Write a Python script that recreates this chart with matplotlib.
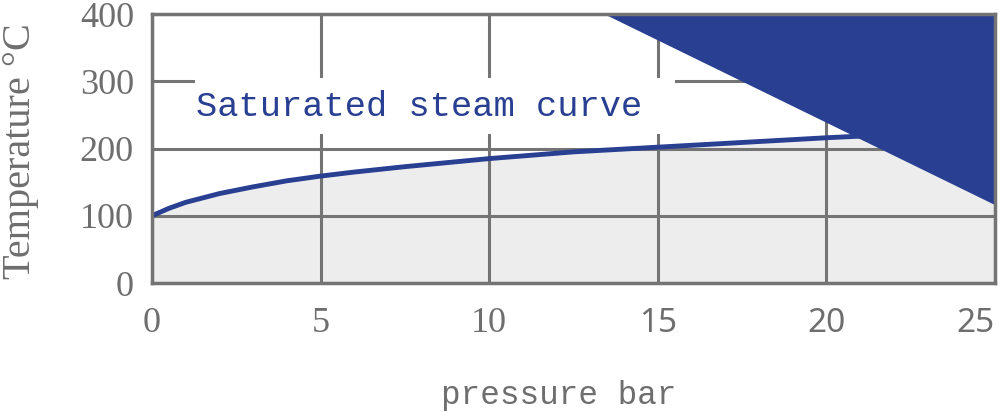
import numpy as np
import matplotlib.pyplot as plt
from matplotlib.patches import Rectangle

# saturated steam curve (gauge pressure bar, temperature C)
pressure = [0, 0.5, 1, 2, 3, 4, 5, 6, 7.5, 10, 12.5, 15, 17.5, 20, 22.5, 25]
temperature = [100, 111, 120, 133, 143, 152, 159, 165, 173, 185, 195, 202, 209, 216, 222, 228]

# dark blue corner region (superheated zone)
zone_x = [13.4, 25, 25]
zone_y = [400, 400, 116]

xticks = [0, 5, 10, 15, 20, 25]
yticks = [0, 100, 200, 300, 400]

grey = '#747474'
blue = '#283f92'
label_grey = '#6e6e6e'

fig = plt.figure(figsize=(10, 4.11), dpi=100)
ax = fig.add_axes([0.152, 0.3114, 0.843, 0.6545])

ax.fill_between(pressure, temperature, 0, color='#ededed', zorder=1)
ax.grid(True, color=grey, linewidth=2.2, zorder=2)
ax.set_axisbelow(False)
ax.plot(pressure, temperature, color=blue, linewidth=3.5, zorder=3, solid_capstyle='butt')

# white label box behind the caption
ax.add_patch(Rectangle((1.27, 221.5), 14.25, 83.5, facecolor='white',
                       edgecolor='none', zorder=3.2))
ax.text(1.3, 262, 'Saturated steam curve', family='Liberation Mono', fontsize=25.5,
        color=blue, va='center', ha='left', zorder=3.5)

ax.fill(zone_x, zone_y, color=blue, zorder=4, linewidth=0)

ax.set_xlim(0, 25)
ax.set_ylim(0, 400)
ax.set_xticks(xticks)
ax.set_yticks(yticks)
ax.tick_params(length=0, colors=label_grey)
ax.tick_params(axis='x', pad=17)
ax.tick_params(axis='y', pad=13)
for lab in ax.get_yticklabels():
    lab.set_family('Liberation Serif')
    lab.set_fontsize(26)
for lab in ax.get_xticklabels():
    if lab.get_text() in ('15', '20', '25'):
        lab.set_family('Noto Sans')
        lab.set_fontsize(24)
    else:
        lab.set_family('Liberation Serif')
        lab.set_fontsize(26)
    if lab.get_text() == '25':
        lab.set_horizontalalignment('right')

for s in ax.spines.values():
    s.set_color(grey)
    s.set_linewidth(2.5)
    s.set_zorder(5)

ax.set_ylabel('Temperature \u00b0C', family='Liberation Serif', fontsize=29,
              color=label_grey)
ax.yaxis.set_label_coords(-0.134, 0.49)
ax.set_xlabel('pressure bar', family='Liberation Mono', fontsize=23.5,
              color=label_grey)
ax.xaxis.set_label_coords(0.482, -0.36)

fig.savefig('out.png', dpi=100)
